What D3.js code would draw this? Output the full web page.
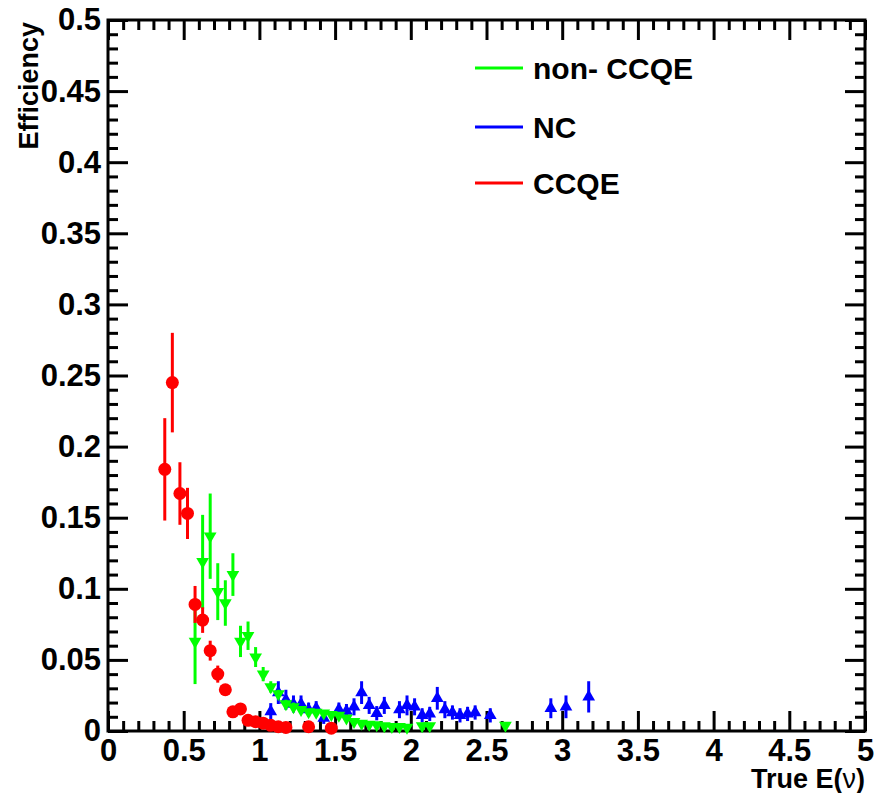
<!DOCTYPE html>
<html lang="en">
<head>
<meta charset="UTF-8">
<title>Efficiency vs True E(nu)</title>
<script src="https://d3js.org/d3.v7.min.js"></script>
<style>
  body { margin: 0; background: #fff; }
  text { font-family: "Liberation Sans", Arial, sans-serif; font-weight: bold; }
</style>
</head>
<body>
<script>
// CCQE (red circles)
var ccqeE   = [0.375, 0.425, 0.475, 0.525, 0.575, 0.625, 0.675, 0.725, 0.775, 0.825, 0.875, 0.925, 0.975, 1.025, 1.075, 1.125, 1.175, 1.325, 1.475];
var ccqeEff = [0.184, 0.245, 0.167, 0.153, 0.089, 0.078, 0.0565, 0.040, 0.029, 0.0135, 0.0155, 0.0075, 0.0065, 0.0055, 0.004, 0.003, 0.0025, 0.003, 0.002];
var ccqeErr = [0.036, 0.035, 0.022, 0.018, 0.013, 0.009, 0.007, 0.006, 0.004, 0.003, 0.003, 0.002, 0.002, 0.0015, 0.0012, 0.001, 0.001, 0.001, 0.001];

// non-CCQE (green down triangles)
var nonE   = [0.575, 0.625, 0.675, 0.725, 0.775, 0.825, 0.875, 0.925, 0.975, 1.025, 1.075, 1.125, 1.175, 1.225, 1.275, 1.325, 1.375, 1.425, 1.475, 1.525, 1.575, 1.625, 1.675, 1.725, 1.775, 1.825, 1.875, 1.925, 1.975, 2.075, 2.125, 2.625];
var nonEff = [0.063, 0.119, 0.137, 0.098, 0.090, 0.110, 0.063, 0.067, 0.052, 0.040, 0.031, 0.026, 0.019, 0.017, 0.015, 0.0135, 0.013, 0.0125, 0.0115, 0.011, 0.009, 0.0066, 0.0054, 0.0047, 0.0042, 0.0035, 0.003, 0.003, 0.0026, 0.0035, 0.0035, 0.004];
var nonErr = [0.03, 0.033, 0.03, 0.02, 0.016, 0.015, 0.011, 0.01, 0.007, 0.005, 0.004, 0.003, 0.003, 0.003, 0.002, 0.002, 0.002, 0.002, 0.002, 0.002, 0.0015, 0.0015, 0.001, 0.001, 0.001, 0.001, 0.001, 0.001, 0.001, 0.001, 0.001, 0.0015];

// NC (blue up triangles)
var ncE   = [1.075, 1.125, 1.175, 1.225, 1.275, 1.325, 1.375, 1.425, 1.525, 1.575, 1.625, 1.675, 1.725, 1.775, 1.825, 1.925, 1.975, 2.025, 2.075, 2.125, 2.175, 2.225, 2.275, 2.325, 2.375, 2.425, 2.525, 2.925, 3.025, 3.175];
var ncEff = [0.0136, 0.027, 0.022, 0.019, 0.019, 0.015, 0.016, 0.009, 0.015, 0.014, 0.017, 0.027, 0.018, 0.0125, 0.018, 0.015, 0.018, 0.017, 0.011, 0.012, 0.023, 0.015, 0.013, 0.011, 0.012, 0.013, 0.011, 0.016, 0.017, 0.024];
var ncErr = [0.006, 0.008, 0.007, 0.006, 0.006, 0.005, 0.005, 0.004, 0.005, 0.005, 0.006, 0.008, 0.006, 0.005, 0.006, 0.006, 0.007, 0.006, 0.005, 0.005, 0.008, 0.006, 0.005, 0.005, 0.005, 0.005, 0.005, 0.007, 0.008, 0.011];

var xMajor = [0, 0.5, 1, 1.5, 2, 2.5, 3, 3.5, 4, 4.5, 5];
var yMajor = [0, 0.05, 0.1, 0.15, 0.2, 0.25, 0.3, 0.35, 0.4, 0.45, 0.5];
var legendNames = ["non- CCQE", "NC", "CCQE"];
var legendColors = ["#00ff00", "#0000ff", "#ff0000"];

var width = 876, height = 793;
var pLeft = 108, pRight = 865, pTop = 20, pBottom = 731;

var svg = d3.select("body").append("svg").attr("width", width).attr("height", height);

var x = d3.scaleLinear().domain([0, 5]).range([pLeft, pRight]);
var y = d3.scaleLinear().domain([0, 0.5]).range([pBottom, pTop]);

var xMinor = d3.range(0, 51).map(function(i) { return i / 10; }).filter(function(v) { return Math.round(v * 10) % 5 != 0; });
var yMinor = d3.range(0, 51).map(function(i) { return i / 100; }).filter(function(v) { return Math.round(v * 100) % 5 != 0; });

var fmt = function(d) { return String(+d.toFixed(2)); };

function styleAxis(g) {
    g.select(".domain").remove();
    g.selectAll("line").attr("stroke", "#000").attr("stroke-width", 3);
    g.selectAll("text").attr("fill", "#000").style("font-size", "31px");
}

// bottom
svg.append("g").attr("transform", "translate(0," + pBottom + ")")
    .call(d3.axisBottom(x).tickValues(xMajor).tickSizeInner(-20).tickSizeOuter(0).tickPadding(8).tickFormat(fmt))
    .call(styleAxis);
svg.append("g").attr("transform", "translate(0," + pBottom + ")")
    .call(d3.axisBottom(x).tickValues(xMinor).tickSizeInner(-10).tickSizeOuter(0).tickFormat(""))
    .call(styleAxis);
// top
svg.append("g").attr("transform", "translate(0," + pTop + ")")
    .call(d3.axisTop(x).tickValues(xMajor).tickSizeInner(-20).tickSizeOuter(0).tickFormat(""))
    .call(styleAxis);
svg.append("g").attr("transform", "translate(0," + pTop + ")")
    .call(d3.axisTop(x).tickValues(xMinor).tickSizeInner(-10).tickSizeOuter(0).tickFormat(""))
    .call(styleAxis);
// left
svg.append("g").attr("transform", "translate(" + pLeft + ",0)")
    .call(d3.axisLeft(y).tickValues(yMajor).tickSizeInner(-20).tickSizeOuter(0).tickPadding(7).tickFormat(fmt))
    .call(styleAxis);
svg.append("g").attr("transform", "translate(" + pLeft + ",0)")
    .call(d3.axisLeft(y).tickValues(yMinor).tickSizeInner(-10).tickSizeOuter(0).tickFormat(""))
    .call(styleAxis);
// right
svg.append("g").attr("transform", "translate(" + pRight + ",0)")
    .call(d3.axisRight(y).tickValues(yMajor).tickSizeInner(-20).tickSizeOuter(0).tickFormat(""))
    .call(styleAxis);
svg.append("g").attr("transform", "translate(" + pRight + ",0)")
    .call(d3.axisRight(y).tickValues(yMinor).tickSizeInner(-10).tickSizeOuter(0).tickFormat(""))
    .call(styleAxis);

svg.append("rect")
    .attr("x", pLeft).attr("y", pTop)
    .attr("width", pRight - pLeft).attr("height", pBottom - pTop)
    .attr("fill", "none").attr("stroke", "#000").attr("stroke-width", 3);

// axis titles
svg.append("text")
    .attr("transform", "translate(38," + (pTop + 2) + ") rotate(-90)")
    .attr("text-anchor", "end")
    .style("font-size", "27px")
    .text("Efficiency");

var xt = svg.append("text")
    .attr("x", pRight).attr("y", 788)
    .attr("text-anchor", "end")
    .style("font-size", "27px");
xt.append("tspan").text("True E(");
xt.append("tspan").style("font-weight", "normal").text("\u03bd");
xt.append("tspan").text(")");

// data series
function drawSeries(es, effs, errs, color, marker) {
    var pts = es.map(function(e, i) { return { e: e, v: effs[i], err: errs[i] }; });
    var g = svg.append("g");
    g.selectAll("line").data(pts).enter().append("line")
        .attr("x1", function(d) { return x(d.e); })
        .attr("x2", function(d) { return x(d.e); })
        .attr("y1", function(d) { return y(Math.max(0, d.v - d.err)); })
        .attr("y2", function(d) { return y(d.v + d.err); })
        .attr("stroke", color).attr("stroke-width", 3);
    if (marker == "circle") {
        g.selectAll("circle").data(pts).enter().append("circle")
            .attr("cx", function(d) { return x(d.e); })
            .attr("cy", function(d) { return y(d.v); })
            .attr("r", 6.5).attr("fill", color);
    } else {
        var sym = d3.symbol().type(d3.symbolTriangle).size(70);
        g.selectAll("path").data(pts).enter().append("path")
            .attr("d", sym)
            .attr("transform", function(d) {
                return "translate(" + x(d.e) + "," + y(d.v) + ")" + (marker == "down" ? " rotate(180)" : "");
            })
            .attr("fill", color);
    }
}

drawSeries(ncE, ncEff, ncErr, "#0000ff", "up");
drawSeries(nonE, nonEff, nonErr, "#00ff00", "down");
drawSeries(ccqeE, ccqeEff, ccqeErr, "#ff0000", "circle");

// legend
var legendY = [68, 127, 183];
var leg = svg.append("g").selectAll("g").data(legendNames).enter().append("g")
    .attr("transform", function(d, i) { return "translate(475," + legendY[i] + ")"; });
leg.append("line")
    .attr("x1", 0).attr("x2", 48).attr("y1", 0).attr("y2", 0)
    .attr("stroke", function(d, i) { return legendColors[i]; })
    .attr("stroke-width", 3);
leg.append("text")
    .attr("x", 58).attr("y", 11)
    .style("font-size", "30px")
    .text(function(d) { return d; });
</script>
</body>
</html>
